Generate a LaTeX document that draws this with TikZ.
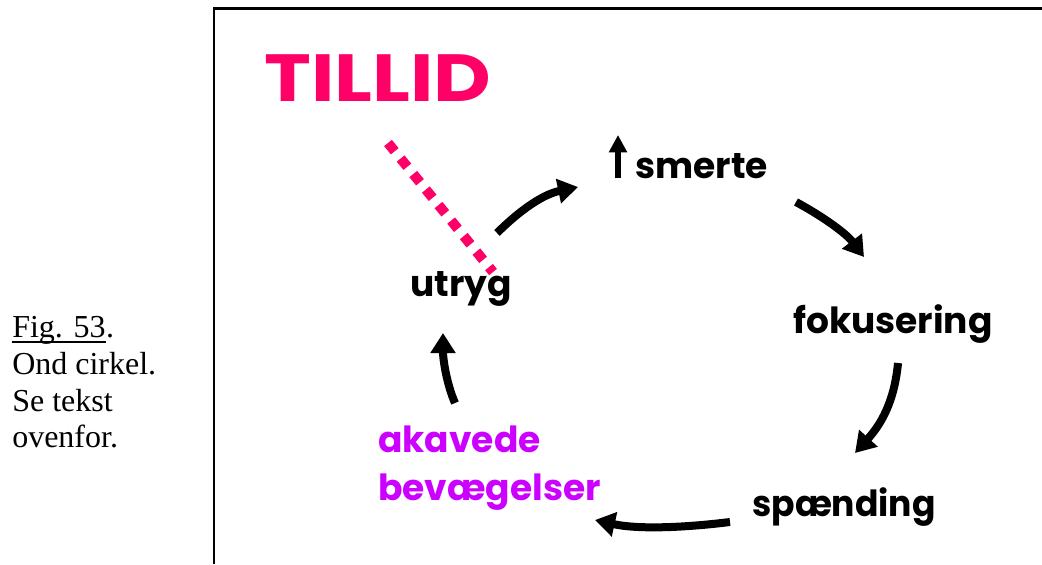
\documentclass[tikz,border=0pt]{standalone}
\usepackage{fontspec}
\setmainfont{Liberation Serif}
\newfontfamily\comic{Poppins}
\usetikzlibrary{arrows.meta}
\definecolor{tpink}{HTML}{FF0066}
\definecolor{tpurple}{HTML}{CC00FF}
\begin{document}
\begin{tikzpicture}[x=0.75pt,y=-0.75pt,
  lbl/.style={inner sep=0pt, anchor=base west, font=\comic\bfseries\fontsize{27}{30}\selectfont},
  captext/.style={inner sep=0pt, anchor=base west, font=\fontsize{24}{27}\selectfont},
  cyc/.style={line width=6pt, -{Triangle[length=15pt,width=18pt]}},
  dots/.style={tpink, line width=7.5pt, dash pattern=on 8pt off 7pt},
]
\useasboundingbox (0,0) rectangle (1042,564);
% frame
\draw[line width=2.2pt] (214,564) -- (214,8.5) -- (1042,8.5);
% caption
\node[captext] (c1) at (12,337) {Fig. 53};
\node[captext, anchor=base west] (c1p) at (c1.base east) {.};
\draw[line width=1.3pt] ([yshift=-3.9pt]c1.base west) -- ([yshift=-3.9pt]c1.base east);
\node[captext] (c2) at (12,374) {Ond cirkel.};
\node[captext] (c3) at (12,411) {Se tekst};
\node[captext] (c4) at (12,447) {ovenfor.};
% labels
\node[lbl, text=tpink, font=\comic\bfseries\fontsize{50}{60}\selectfont] (tillid) at (264,101) {\scalebox{1.19}[1]{TILLID}};
\node[lbl] (utryg) at (410,296) {utryg};
\node[lbl] (smerte) at (635,178) {smerte};
\node[lbl] (fok) at (793,333) {fokusering};
\node[lbl] (spaend) at (752,516) {\scalebox{0.96}[1]{spænding}};
\node[lbl, text=tpurple] (akavede) at (378,452) {akavede};
\node[lbl, text=tpurple] (bev) at (378,500) {bevægelser};
% small up arrow
\coordinate (u1) at (618,178);
\coordinate (u2) at (618,135);
\draw[line width=5pt, -{Triangle[length=13pt,width=13pt]}] (u1) -- (u2);
% dotted line
\coordinate (d1) at (388,143);
\coordinate (d2) at (493,272);
\draw[dots] (d1) -- (d2);
% cycle arrows
\coordinate (a1s) at (497,233); \coordinate (a1e) at (578,187);
\coordinate (a2s) at (796,202); \coordinate (a2e) at (864,257);
\coordinate (a3s) at (898,363); \coordinate (a3e) at (855,453);
\coordinate (a4s) at (730,522); \coordinate (a4e) at (595,520);
\coordinate (a5s) at (455,403); \coordinate (a5e) at (443,333);
\draw[cyc] (a1s) .. controls (515,215) and (540,195) .. (a1e);
\draw[cyc] (a2s) .. controls (820,215) and (845,232) .. (a2e);
\draw[cyc] (a3s) .. controls (895,395) and (885,420) .. (a3e);
\draw[cyc] (a4s) .. controls (690,527) and (640,530) .. (a4e);
\draw[cyc] (a5s) .. controls (447,385) and (443,360) .. (a5e);
\end{tikzpicture}
\end{document}
